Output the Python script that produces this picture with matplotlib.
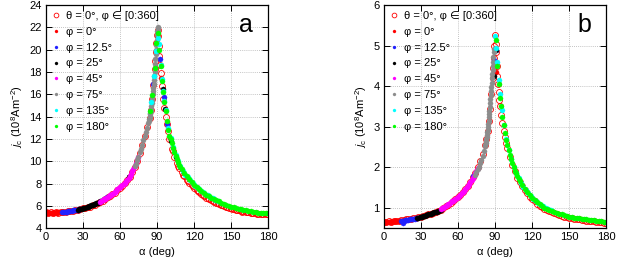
import numpy as np
import matplotlib
matplotlib.use("Agg")
from matplotlib import pyplot as plt

plt.rcParams['font.family'] = ['Liberation Sans', 'DejaVu Sans']
plt.rcParams['mathtext.fontset'] = 'custom'
plt.rcParams['mathtext.rm'] = 'Liberation Sans'
plt.rcParams['mathtext.it'] = 'Liberation Sans:italic'

# ---------------- panel a ----------------
alpha_ring_a = [0, 2, 4, 6, 8, 10, 12, 14, 16, 18,
                20, 22, 24, 26, 28, 30, 32, 34, 36, 38,
                40, 42, 44, 46, 48, 50, 52, 54, 56, 58,
                60, 62, 64, 66, 68, 70, 72, 74, 76, 78,
                80, 82, 84, 85, 86, 87, 88, 88.5, 89, 89.5,
                90, 90.5, 91, 91.5, 92, 92.5, 93, 94, 95, 96,
                97, 98, 99, 100, 102, 104, 106, 108, 110, 112,
                114, 116, 118, 120, 122, 124, 126, 128, 130, 132,
                134, 136, 138, 140, 142, 144, 146, 148, 150, 152,
                154, 156, 158, 160, 162, 164, 166, 168, 170, 172,
                174, 176, 178, 180,
                103, 107, 111, 115, 119, 123, 127, 131, 135, 139,
                143, 147, 151, 155, 159, 163, 167, 171, 175, 179]
jc_ring_a = [5.42, 5.35, 5.45, 5.38, 5.42, 5.36, 5.45, 5.47, 5.50, 5.52,
             5.58, 5.55, 5.65, 5.68, 5.72, 5.78, 5.82, 5.90, 5.95, 6.06,
             6.12, 6.24, 6.32, 6.48, 6.60, 6.78, 6.90, 7.08, 7.20, 7.42,
             7.58, 7.82, 8.05, 8.32, 8.62, 9.05, 9.50, 10.05, 10.75, 11.45,
             12.25, 13.05, 13.9, 14.6, 15.6, 16.8, 18.3, 19.0, 19.8, 20.6,
             21.3, 21.8, 21.2, 20.3, 19.4, 18.6, 17.9, 16.7, 15.6, 14.8,
             14.0, 13.3, 12.7, 12.0, 11.1, 10.4, 9.85, 9.4, 9.0, 8.65,
             8.35, 8.1, 7.85, 7.6, 7.42, 7.22, 7.05, 6.9, 6.75, 6.6,
             6.5, 6.38, 6.3, 6.2, 6.1, 6.02, 5.95, 5.86, 5.8, 5.72,
             5.66, 5.62, 5.56, 5.52, 5.47, 5.44, 5.4, 5.37, 5.34, 5.32,
             5.30, 5.28, 5.27, 5.30,
             10.9, 9.6, 8.8, 8.25, 7.75, 7.35, 7.0, 6.7, 6.45, 6.25,
             6.05, 5.87, 5.73, 5.6, 5.5, 5.42, 5.35, 5.28, 5.25, 5.25]

alpha_phi0_a = [0, 1, 2, 3, 4, 5, 6, 7, 8, 9, 10, 11, 12, 13, 14, 93.5, 100.5]
jc_phi0_a = [5.42, 5.40, 5.42, 5.38, 5.40, 5.41, 5.39, 5.40, 5.42, 5.40,
             5.42, 5.43, 5.44, 5.45, 5.46, 17.5, 12.1]

alpha_phi12_a = [13, 14, 15, 16, 17, 18, 19, 20, 21, 22, 23, 24, 25, 26, 27, 28,
                 47, 49.5, 86.8, 92.5, 95.5, 98.5]
jc_phi12_a = [5.45, 5.46, 5.47, 5.48, 5.50, 5.52, 5.54, 5.56, 5.58, 5.60,
              5.62, 5.64, 5.66, 5.68, 5.71, 5.74,
              6.6, 6.8, 16.9, 19.2, 15.8, 13.3]

alpha_phi25_a = [26, 27, 28, 29, 30, 31, 32, 33, 34, 35, 36, 37, 38, 39, 40,
                 41, 42, 43, 44, 45, 67, 67.5, 94.5, 96.5, 101, 105]
jc_phi25_a = [5.68, 5.70, 5.73, 5.76, 5.79, 5.82, 5.85, 5.89, 5.93, 5.97,
              6.01, 6.05, 6.10, 6.15, 6.20, 6.25, 6.30, 6.36, 6.42, 6.48,
              8.55, 8.62, 16.5, 14.7, 11.8, 10.4]

alpha_phi45_a = [44, 45, 46, 47, 48, 49, 50, 51, 52, 53, 54, 55, 56, 57, 58, 59,
                 60, 61, 62, 63, 64, 65, 66, 67, 68, 69, 70, 71, 72, 73, 74, 75]
jc_phi45_a = [6.35, 6.42, 6.50, 6.58, 6.65, 6.72, 6.80, 6.87, 6.95, 7.02,
              7.10, 7.18, 7.28, 7.38, 7.48, 7.58, 7.68, 7.80, 7.92, 8.0,
              8.1, 8.22, 8.35, 8.5, 8.65, 8.85, 9.1, 9.33, 9.56, 9.82,
              10.08, 10.36]

alpha_phi75_a = [72, 73, 74, 75, 76, 77, 78, 79, 80, 81, 82, 83,
                 83.5, 83.75, 84, 84.25, 84.5, 84.75, 85, 85.25, 85.5, 85.75,
                 86, 86.25, 86.5, 86.75, 87, 87.25, 87.5, 87.75, 88, 88.25,
                 88.5, 88.75, 89, 89.25, 89.5, 89.75, 90, 90.25, 90.5, 90.75, 91]
jc_phi75_a = [9.55, 9.8, 10.1, 10.4, 10.8, 11.1, 11.5, 11.9, 12.3, 12.65, 13.0, 13.4,
              13.6, 13.75, 13.9, 14.05, 14.2, 14.35, 14.5, 14.7, 14.95, 15.2,
              15.45, 15.7, 16.0, 16.3, 16.6, 16.9, 17.25, 17.6, 18.0, 18.35,
              18.75, 19.15, 19.6, 20.0, 20.45, 20.9, 21.3, 21.65, 21.9, 22.0, 21.8]

alpha_phi135_a = [85.5, 87.5, 89, 91, 91.5, 93, 94, 95, 96, 97, 99, 101, 103, 105,
                  107, 109, 111, 113, 115, 117, 119, 121, 123, 125, 127, 129,
                  131, 133, 135, 137, 139]
jc_phi135_a = [15.3, 17.6, 19.9, 21.0, 20.5, 18.6, 17.4, 16.3, 15.4, 14.6, 13.0,
               12.1, 11.3, 10.6, 10.0, 9.6, 9.15, 8.8, 8.55, 8.3, 8.05, 7.82,
               7.62, 7.42, 7.25, 7.1, 6.95, 6.8, 6.68, 6.57, 6.47]

alpha_phi180_a = [84.5, 86, 88, 89.5, 90.5,
                  92, 93, 94, 95, 96, 97, 98, 99, 100, 101, 102, 103, 104, 105,
                  106, 107, 108, 109, 110, 112, 114, 116, 118, 120, 122, 124,
                  126, 128, 130, 132, 134, 136, 138, 140, 142, 144, 146, 148,
                  150, 152, 154, 156, 158, 160, 162, 164, 166, 168, 170, 172,
                  174, 176, 178, 180]
jc_phi180_a = [14.5, 15.9, 18.4, 20.6, 21.5,
               20.0, 18.5, 17.2, 16.2, 15.3, 14.5, 13.6, 12.8, 12.3, 12.0, 11.6,
               11.2, 10.8, 10.5, 10.2, 9.9, 9.7, 9.5, 9.3, 8.95, 8.65, 8.4, 8.15,
               7.9, 7.7, 7.5, 7.3, 7.15, 7.0, 6.85, 6.72, 6.6, 6.5, 6.4, 6.3,
               6.2, 6.1, 6.02, 5.95, 5.88, 5.82, 5.76, 5.7, 5.65, 5.6, 5.55,
               5.51, 5.47, 5.44, 5.41, 5.39, 5.37, 5.36, 5.35]

# ---------------- panel b ----------------
alpha_ring_b = [0, 2, 4, 6, 8, 10, 12, 14, 16, 18,
                20, 22, 24, 26, 28, 30, 32, 34, 36, 38,
                40, 42, 44, 46, 48, 50, 52, 54, 56, 58,
                60, 62, 64, 66, 68, 70, 72, 74, 76, 78,
                80, 82, 83, 84, 85, 86, 87, 88, 88.5, 89,
                89.5, 90, 90.5, 91, 91.5, 92, 92.5, 93, 93.5, 94,
                95, 96, 97, 98, 99, 100, 102, 104, 106, 108,
                110, 112, 114, 116, 118, 120, 122, 124, 126, 128,
                130, 132, 134, 136, 138, 140, 142, 144, 146, 148,
                150, 152, 154, 156, 158, 160, 162, 164, 166, 168,
                170, 172, 174, 176, 178, 180]
jc_ring_b = [0.66, 0.65, 0.67, 0.66, 0.67, 0.68, 0.69, 0.70, 0.71, 0.72,
             0.73, 0.74, 0.75, 0.76, 0.77, 0.79, 0.80, 0.82, 0.84, 0.86,
             0.88, 0.90, 0.93, 0.96, 1.00, 1.04, 1.08, 1.12, 1.17, 1.22,
             1.27, 1.33, 1.40, 1.47, 1.55, 1.65, 1.76, 1.87, 2.00, 2.15,
             2.32, 2.55, 2.70, 2.90, 3.15, 3.45, 3.80, 4.20, 4.45, 4.70,
             5.00, 5.25, 5.05, 4.85, 4.50, 4.25, 4.05, 3.85, 3.65, 3.50,
             3.30, 3.10, 2.90, 2.75, 2.60, 2.48, 2.25, 2.05, 1.90, 1.75,
             1.63, 1.53, 1.44, 1.36, 1.28, 1.22, 1.16, 1.11, 1.06, 1.02,
             0.98, 0.95, 0.92, 0.89, 0.87, 0.85, 0.83, 0.81, 0.79, 0.78,
             0.76, 0.75, 0.74, 0.73, 0.72, 0.71, 0.70, 0.69, 0.69, 0.68,
             0.67, 0.66, 0.66, 0.65, 0.64, 0.63]

alpha_phi0_b = [0, 1, 2, 3, 4, 5, 6, 7, 8, 9, 10, 11, 12, 13, 14, 91]
jc_phi0_b = [0.65, 0.655, 0.65, 0.66, 0.655, 0.66, 0.665, 0.66, 0.67, 0.67,
             0.675, 0.68, 0.68, 0.685, 0.69, 4.36]

alpha_phi12_b = [14, 15, 16, 17, 18, 19, 20, 21, 22, 23, 24, 25, 26, 27,
                 15.5, 72.3, 89.3, 91]
jc_phi12_b = [0.69, 0.68, 0.69, 0.70, 0.705, 0.71, 0.715, 0.72, 0.725, 0.73,
              0.735, 0.74, 0.745, 0.75, 0.62, 1.8, 4.65, 4.9]

alpha_phi25_b = [27, 28, 29, 30, 31, 32, 33, 34, 35, 36, 37, 38, 39, 40, 41,
                 42, 43, 44, 45, 46, 89.2, 90.6]
jc_phi25_b = [0.76, 0.765, 0.77, 0.78, 0.79, 0.80, 0.81, 0.82, 0.83, 0.84,
              0.85, 0.86, 0.87, 0.88, 0.89, 0.90, 0.91, 0.92, 0.935, 0.95,
              4.25, 4.88]

alpha_phi45_b = [46, 47, 48, 49, 50, 51, 52, 53, 54, 55, 56, 57, 58, 59, 60, 61,
                 62, 63, 64, 65, 66, 67, 68, 69, 70, 71, 72, 73, 74, 75, 76]
jc_phi45_b = [0.97, 0.99, 1.01, 1.03, 1.05, 1.07, 1.09, 1.11, 1.14, 1.16,
              1.18, 1.20, 1.22, 1.25, 1.27, 1.30, 1.33, 1.36, 1.39, 1.43,
              1.47, 1.51, 1.55, 1.60, 1.65, 1.70, 1.74, 1.79, 1.85, 1.91, 1.98]

alpha_phi75_b = [74, 75, 76, 77, 78, 79, 80, 81, 82, 82.25, 82.5, 82.75, 83,
                 83.25, 83.5, 83.75, 84, 84.25, 84.5, 84.75, 85, 85.25, 85.5,
                 85.75, 86, 86.25, 86.5, 86.75, 87, 87.25, 87.5, 87.75, 88,
                 88.25, 88.5, 88.75, 89, 89.25]
jc_phi75_b = [1.82, 1.88, 1.95, 2.02, 2.10, 2.19, 2.29, 2.40, 2.52, 2.56, 2.60,
              2.64, 2.69, 2.74, 2.80, 2.86, 2.93, 3.00, 3.07, 3.15, 3.23, 3.31,
              3.40, 3.49, 3.58, 3.68, 3.78, 3.88, 3.98, 4.08, 4.19, 4.30, 4.41,
              4.50, 4.60, 4.72, 4.83, 4.92]

alpha_phi135_b = [90, 90.6, 91.5, 92.9, 94, 95.4, 97, 99, 101, 103, 105, 107,
                  109, 111, 113, 115, 117, 119, 121, 123, 125, 127, 129, 131,
                  133, 135]
jc_phi135_b = [5.23, 4.95, 4.6, 4.15, 3.8, 3.42, 3.05, 2.70, 2.44, 2.21, 2.01,
               1.86, 1.73, 1.62, 1.52, 1.44, 1.36, 1.29, 1.23, 1.17, 1.12,
               1.08, 1.04, 1.00, 0.97, 0.94]

alpha_phi180_b = [90.8, 91.8, 93, 94, 95, 96, 97, 98, 99, 100, 101, 102, 103,
                  104, 105, 106, 107, 108, 109, 110, 112, 114, 116, 118, 120,
                  122, 124, 126, 128, 130, 132, 134, 136, 138, 140, 142, 144,
                  146, 148, 150, 152, 154, 156, 158, 160, 162, 164, 166, 168,
                  170, 172, 174, 176, 178, 180]
jc_phi180_b = [5.13, 4.5, 4.05, 3.70, 3.50, 3.25, 3.05, 2.85, 2.68, 2.55, 2.43,
               2.30, 2.20, 2.10, 2.00, 1.92, 1.85, 1.78, 1.72, 1.66, 1.56, 1.47,
               1.39, 1.31, 1.25, 1.19, 1.14, 1.09, 1.05, 1.01, 0.98, 0.95, 0.92,
               0.90, 0.88, 0.86, 0.84, 0.82, 0.80, 0.79, 0.775, 0.765, 0.755,
               0.745, 0.735, 0.725, 0.72, 0.71, 0.705, 0.70, 0.69, 0.68, 0.67,
               0.665, 0.655]

labels = ["θ = 0°, φ ∈ [0:360]", "φ = 0°", "φ = 12.5°", "φ = 25°",
          "φ = 45°", "φ = 75°", "φ = 135°", "φ = 180°"]
colours = ["#ff0000", "#ff0000", "#2020ff", "#000000", "#ff00ff",
           "#8c8c8c", "#00ffff", "#00ff00"]

panel_a = [(alpha_ring_a, jc_ring_a), (alpha_phi0_a, jc_phi0_a),
           (alpha_phi12_a, jc_phi12_a), (alpha_phi25_a, jc_phi25_a),
           (alpha_phi45_a, jc_phi45_a), (alpha_phi75_a, jc_phi75_a),
           (alpha_phi135_a, jc_phi135_a), (alpha_phi180_a, jc_phi180_a)]
panel_b = [(alpha_ring_b, jc_ring_b), (alpha_phi0_b, jc_phi0_b),
           (alpha_phi12_b, jc_phi12_b), (alpha_phi25_b, jc_phi25_b),
           (alpha_phi45_b, jc_phi45_b), (alpha_phi75_b, jc_phi75_b),
           (alpha_phi135_b, jc_phi135_b), (alpha_phi180_b, jc_phi180_b)]


def draw_panel(ax, data, ylim, yticks, letter):
    handles = []
    for i, (x, y) in enumerate(data):
        if i == 0:
            h, = ax.plot(x, y, linestyle='none', marker='o', ms=4.3, mfc='none',
                         mec=colours[i], mew=0.6, label=labels[i])
        else:
            h, = ax.plot(x, y, linestyle='none', marker='o', ms=3.7, mfc=colours[i],
                         mec=colours[i], mew=0.2, label=labels[i])
        handles.append(h)
    ax.set_xlim(0, 180)
    ax.set_ylim(*ylim)
    ax.set_xticks(np.arange(0, 181, 30))
    ax.set_yticks(yticks)
    ax.grid(True, color='#b0b0b0', linestyle=(0, (1, 1.5)), linewidth=0.6)
    ax.set_axisbelow(True)
    ax.tick_params(direction='in', top=True, right=True, labelsize=8,
                   length=4, width=0.7, pad=3)
    for s in ax.spines.values():
        s.set_linewidth(0.9)
    ax.set_xlabel("α (deg)", fontsize=8, labelpad=3)
    ax.set_ylabel(r"$j_{\rm c}$ (10$^8$Am$^{-2}$)", fontsize=8, labelpad=3)
    ax.text(0.90, 0.91, letter, transform=ax.transAxes, fontsize=18,
            ha='center', va='center')
    leg = ax.legend(handles=handles, loc='upper left', frameon=False, fontsize=8,
                    handlelength=0.8, handletextpad=0.45, labelspacing=0.52,
                    borderaxespad=0.25, borderpad=0.3, markerscale=0.8)
    leg.legend_handles[0].set_markersize(3.4)
    for lh in leg.legend_handles[1:]:
        lh.set_markersize(2.2)


fig = plt.figure(figsize=(6.18, 2.63), dpi=100)
ax_a = fig.add_axes([0.074, 0.132, 0.360, 0.849])
ax_b = fig.add_axes([0.621, 0.132, 0.360, 0.849])

draw_panel(ax_a, panel_a, (4, 24), np.arange(4, 25, 2), "a")
draw_panel(ax_b, panel_b, (0.5, 6), np.arange(1, 7, 1), "b")

plt.savefig("out.png", dpi=100)
plt.close(fig)
